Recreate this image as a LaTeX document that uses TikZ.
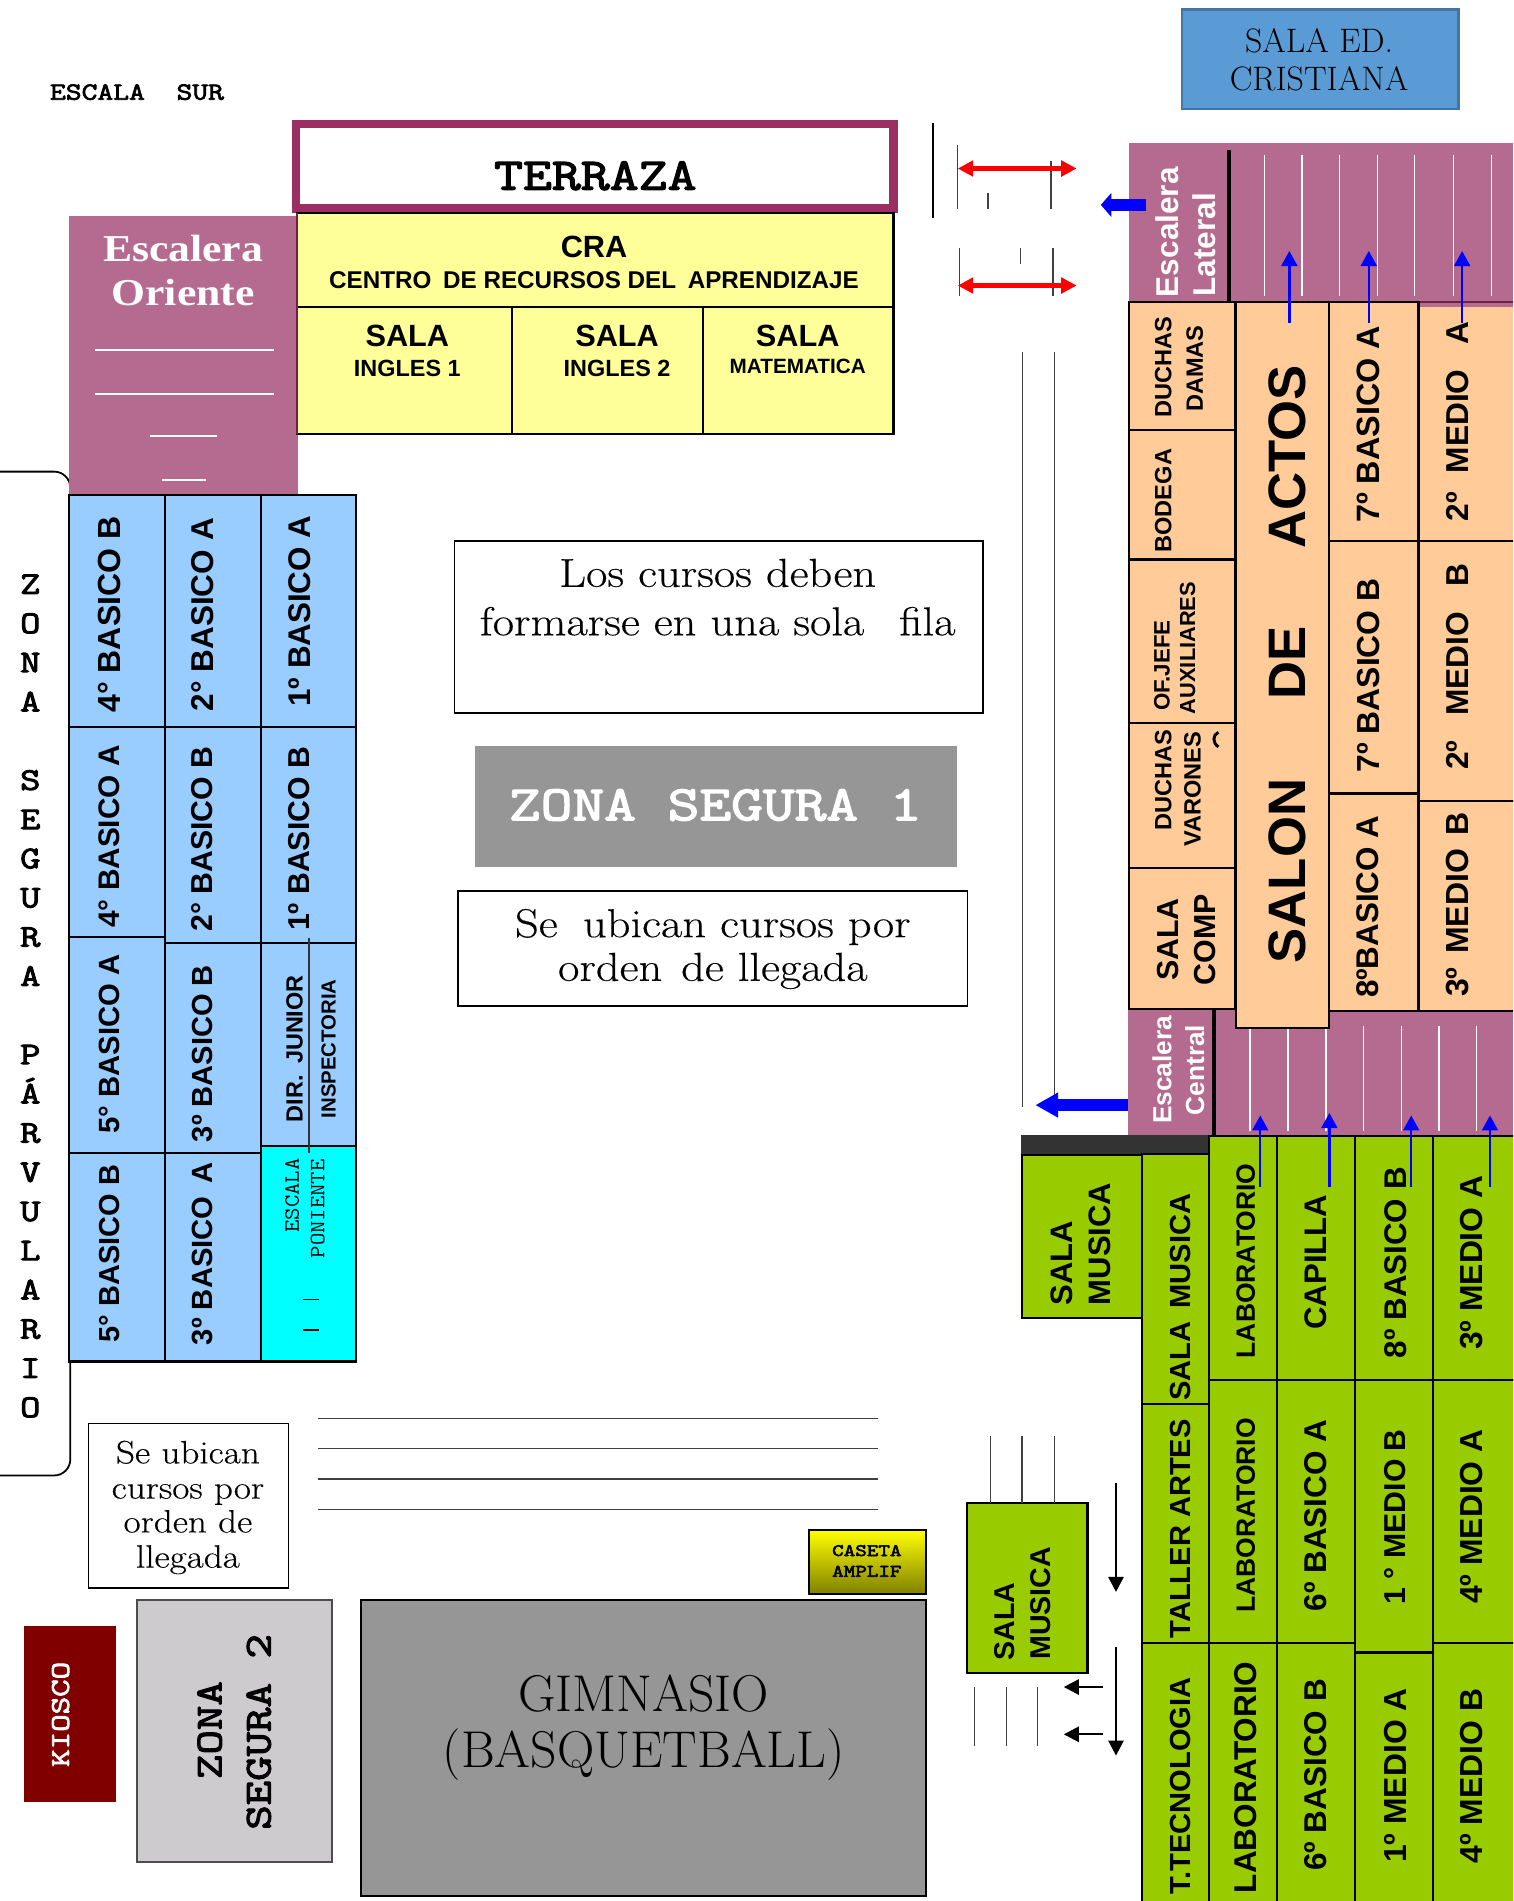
\documentclass[tikz,border=0pt]{standalone}
\usepackage{fontspec}
\setsansfont{Liberation Sans}
\newfontfamily\serifwide[FakeStretch=1.15]{Liberation Serif}
\newfontfamily\notewide[FakeStretch=1.15,FakeBold=0.3]{Latin Modern Roman}
\newfontfamily\monoheavy[FakeStretch=1.25,FakeBold=3]{Latin Modern Mono}
\newfontfamily\monothin[FakeStretch=1.1]{Latin Modern Mono}
\usetikzlibrary{arrows.meta}
\definecolor{stairpink}{HTML}{B56B90}
\definecolor{terrazaframe}{HTML}{9B2F63}
\definecolor{cellyellow}{HTML}{FFFF99}
\definecolor{cellblue}{HTML}{99CCFF}
\definecolor{cellorange}{HTML}{FFCC99}
\definecolor{cellgreen}{HTML}{99CC00}
\definecolor{cellcyan}{HTML}{00FFFF}
\definecolor{zonegray}{HTML}{969696}
\definecolor{zonelight}{HTML}{CDCBCD}
\definecolor{kioscored}{HTML}{800000}
\definecolor{edblue}{HTML}{5B9BD5}
\definecolor{casetatop}{HTML}{FFFF00}
\definecolor{casetabot}{HTML}{7F7F00}
\tikzset{
  room/.style={draw=black,line width=1.3},
  vlab/.style={rotate=90,inner sep=0pt,font=\sffamily\bfseries\fontsize{#1}{#1}\selectfont},
  vlab/.default=18.7,
  hlab/.style={inner sep=0pt,font=\sffamily\bfseries\fontsize{#1}{#1}\selectfont},
  note/.style={inner sep=0pt,anchor=base,font=\notewide\fontsize{#1}{#1}\selectfont},
  plain/.style={inner sep=0pt,anchor=base,font=\fontsize{#1}{#1}\selectfont},
  monob/.style={inner sep=0pt,font=\monoheavy\fontsize{#1}{#1}\selectfont},
  stripe/.style={white,line width=0.8},
  thinline/.style={black!75,line width=0.8},
  bluearrow/.style={blue,line width=1.5,-{Triangle[length=9.3pt,width=9.8pt]}},
  redarrow/.style={red,line width=2.7,{Triangle[length=9.5pt,width=9.5pt]}-{Triangle[length=9.5pt,width=9.5pt]}},
  fatarrow/.style={blue,line width=7.5,-{Triangle[length=#1,width=14.5pt]}},
  blackarrow/.style={black,line width=1.2,-{Triangle[length=9.3pt,width=9.5pt]}},
}
\begin{document}
\begin{tikzpicture}[x=0.75pt,y=0.75pt,yscale=-1,xscale=1]
\clip (0,0) rectangle (1248,1568);

%Shape: Zona parvulario
\draw [line width=1.1, rounded corners=10]  (-30,389) -- (58,389) -- (58,1217) -- (-30,1217) ;

%Shape: Escaleras
\fill [stairpink]  (57,178) rectangle (246,408) ;
\fill [stairpink]  (931,118) rectangle (1248,253) ;
\fill [stairpink]  (930,825) rectangle (1248,937) ;
\draw [black,line width=2.4]  (1013.5,124) -- (1013.5,249) ;
\draw [black,line width=2.4]  (1001.5,832) -- (1001.5,937) ;
\draw [terrazaframe!70!black,line width=1]  (1170,249) -- (1248,249) ;

%Stripes
\foreach \px in {1043,1074,1105,1136,1167,1199,1230} \draw [stripe] (\px,128) -- (\px,244) ;
\foreach \px in {1031,1062.4,1093.8,1124.6,1155.7,1187,1218} \draw [stripe] (\px,846) -- (\px,933) ;

%White rules of the east stair
\draw [stripe,line width=1.2]  (78,289) -- (226,289) ;
\draw [stripe,line width=1.2]  (78,325) -- (226,325) ;
\draw [stripe,line width=1.2]  (124,360) -- (179,360) ;
\draw [stripe,line width=1.2]  (134,396) -- (170,396) ;

%Shape: Sala Ed
\draw [edblue!75!black,fill=edblue,line width=1.5]  (975,8) rectangle (1203,90) ;
%Shape: Terraza
\draw [terrazaframe,line width=5]  (244,102) rectangle (737,172) ;

%Yellow rooms
\draw [room,fill=cellyellow]  (245,176) rectangle (737,253) ;
\draw [room,fill=cellyellow]  (245,253) rectangle (422,358) ;
\draw [room,fill=cellyellow]  (422,253) rectangle (580,358) ;
\draw [room,fill=cellyellow]  (580,253) rectangle (737,358) ;
\draw [terrazaframe!70!black,line width=1.3]  (245,176) -- (245,358) ;

%Blue rooms
\draw [room,fill=cellblue]  (57,408) rectangle (136,600) ;
\draw [room,fill=cellblue]  (57,600) rectangle (136,773) ;
\draw [room,fill=cellblue]  (57,773) rectangle (136,951) ;
\draw [room,fill=cellblue]  (57,951) rectangle (136,1123) ;
\draw [room,fill=cellblue]  (136,408) rectangle (215,600) ;
\draw [room,fill=cellblue]  (136,600) rectangle (215,778) ;
\draw [room,fill=cellblue]  (136,778) rectangle (215,951) ;
\draw [room,fill=cellblue]  (136,951) rectangle (215,1123) ;
\draw [room,fill=cellblue]  (215,408) rectangle (294,600) ;
\draw [room,fill=cellblue]  (215,600) rectangle (294,778) ;
\draw [room,fill=cellblue]  (215,778) rectangle (294,945) ;
\draw [room,fill=cellcyan]  (215,945) rectangle (294,1123) ;
\draw [black!80,line width=1.3]  (255,774) -- (255,951) ;
\draw [line width=0.7]  (250,1071.5) -- (263,1071.5) ;
\draw [line width=0.7]  (250,1097) -- (263,1097) ;

%Shape: notes
\draw [room,line width=1]  (375,446) rectangle (811,588) ;
\fill [zonegray]  (392,615) rectangle (789,715) ;
\draw [room,line width=1]  (378,735) rectangle (798,830) ;
\draw [room,line width=1]  (73,1174) rectangle (238,1310) ;

%Lines of the patio
\draw [thinline]  (262,1170) -- (724,1170) ;
\draw [thinline]  (262,1195) -- (724,1195) ;
\draw [thinline]  (262,1220) -- (724,1220) ;
\draw [thinline]  (262,1245) -- (724,1245) ;

%Shape: lower block
\draw [room,top color=casetatop,bottom color=casetabot]  (667,1262) rectangle (764,1315) ;
\draw [room,fill=zonegray]  (298,1320) rectangle (764,1564) ;
\draw [black!70,line width=1.2,fill=zonelight]  (113,1320) rectangle (274,1536) ;
\fill [kioscored]  (20,1341) rectangle (96,1486) ;

%Orange rooms
\draw [room,fill=cellorange]  (931,249) rectangle (1019,354.5) ;
\draw [room,fill=cellorange]  (931,354.5) rectangle (1019,461.5) ;
\draw [room,fill=cellorange]  (931,461.5) rectangle (1019,596.5) ;
\draw [room,fill=cellorange]  (931,596.5) rectangle (1019,716) ;
\draw [room,fill=cellorange]  (931,716) rectangle (1019,832) ;
\draw [room,fill=cellorange]  (1096,249) rectangle (1170,446) ;
\draw [room,fill=cellorange]  (1096,446) rectangle (1170,654.5) ;
\draw [room,fill=cellorange]  (1096,654.5) rectangle (1170,834) ;
\fill [cellorange]  (1170,253) rectangle (1248,446) ;
\draw [room]  (1170,249) -- (1170,446) -- (1248,446) ;
\draw [room,fill=cellorange]  (1170,446) rectangle (1260,661) ;
\draw [room,fill=cellorange]  (1170,661) rectangle (1260,834) ;
\draw [room,fill=cellorange]  (1019.5,249) rectangle (1096,848) ;

%Green rooms
\fill [black!80]  (842.5,936.5) rectangle (998,952.5) ;
\draw [room,fill=cellgreen]  (843,953) rectangle (942,1087) ;
\draw [room,fill=cellgreen]  (942,952) rectangle (997.5,1158) ;
\draw [room,fill=cellgreen]  (942,1158) rectangle (997.5,1355) ;
\draw [room,fill=cellgreen]  (942,1355) rectangle (997.5,1590) ;
\draw [room,fill=cellgreen]  (997.5,937) rectangle (1053,1138) ;
\draw [room,fill=cellgreen]  (997.5,1138) rectangle (1053,1355) ;
\draw [room,fill=cellgreen]  (997.5,1355) rectangle (1053,1590) ;
\draw [room,fill=cellgreen]  (1053,937) rectangle (1118,1138) ;
\draw [room,fill=cellgreen]  (1053,1138) rectangle (1118,1355) ;
\draw [room,fill=cellgreen]  (1053,1355) rectangle (1118,1590) ;
\draw [room,fill=cellgreen]  (1118,937) rectangle (1182,1138) ;
\draw [room,fill=cellgreen]  (1118,1138) rectangle (1182,1363) ;
\draw [room,fill=cellgreen]  (1118,1363) rectangle (1182,1590) ;
\draw [room,fill=cellgreen]  (1182,937) rectangle (1260,1138) ;
\draw [room,fill=cellgreen]  (1182,1138) rectangle (1260,1355) ;
\draw [room,fill=cellgreen]  (1182,1355) rectangle (1260,1590) ;
\draw [room,fill=cellgreen]  (797.5,1240) rectangle (897,1380) ;

%Thin lines by the arrows
\draw [line width=1.1]  (769.5,101.5) -- (769.5,180) ;
\draw [thinline]  (790,120) -- (790,172) ;
\draw [thinline]  (867,133) -- (867,172) ;
\draw [thinline]  (815,159) -- (815,172) ;
\draw [thinline]  (791.5,204.5) -- (791.5,244) ;
\draw [thinline]  (842,204.5) -- (842,217.5) ;
\draw [thinline]  (868.5,204.5) -- (868.5,244) ;
\draw [thinline]  (843.5,290.5) -- (843.5,913) ;
\draw [thinline]  (869.5,290.5) -- (869.5,903) ;
\draw [thinline]  (817,1184.5) -- (817,1240) ;
\draw [thinline]  (843,1184.5) -- (843,1240) ;
\draw [thinline]  (869.5,1184.5) -- (869.5,1240) ;
\draw [thinline]  (804,1391.5) -- (804,1440) ;
\draw [thinline]  (830,1391.5) -- (830,1440) ;
\draw [thinline]  (856,1391.5) -- (856,1440) ;

%Straight Lines: arrows
\draw [redarrow]  (790,139) -- (888,139) ;
\draw [redarrow]  (790,235.5) -- (888,235.5) ;
\draw [fatarrow=6.5pt]  (945,169) -- (908,169) ;
\draw [fatarrow=14pt]  (930,911.5) -- (854,911.5) ;
\draw [bluearrow]  (1063.5,266) -- (1063.5,207) ;
\draw [bluearrow]  (1129,266) -- (1129,207) ;
\draw [bluearrow]  (1206,266) -- (1206,207) ;
\draw [bluearrow]  (1039.5,979) -- (1039.5,920) ;
\draw [bluearrow]  (1096.5,979) -- (1096.5,918) ;
\draw [bluearrow]  (1164,979) -- (1164,920) ;
\draw [bluearrow]  (1229,979) -- (1229,920) ;
\draw [blackarrow]  (920.5,1223.5) -- (920.5,1313) ;
\draw [blackarrow]  (920.5,1358.5) -- (920.5,1448) ;
\draw [blackarrow]  (910,1391.5) -- (877.5,1391.5) ;
\draw [blackarrow]  (910,1430.5) -- (877.5,1430.5) ;

%Small arc in the varones room
\draw [line width=1.8]  (1005,604) .. controls (1000,606) and (1000,613) .. (1005,616) ;

% Text Node
\draw (113,76) node (escalaSur) [monob=15.2] {ESCALA\ \ SUR};
% Text Node
\draw (1088,43) node (salaEd) [plain=21] {SALA ED.};
\draw (1088,75) node (salaCristiana) [plain=21] {CRISTIANA};
% Text Node
\draw (491,145) node (terraza) [monob=27.8] {TERRAZA};
% Text Node
\draw (151,205) node (escOriente) [inner sep=0pt,text=white,font=\serifwide\bfseries\fontsize{23.5}{23.5}\selectfont] {Escalera};
\draw (151,241) node (escOriente2) [inner sep=0pt,text=white,font=\serifwide\bfseries\fontsize{23.5}{23.5}\selectfont] {Oriente};
% Text Node
\draw (490,204) node (cra) [hlab=19] {CRA};
\draw (490,231) node (craLong) [hlab=15] {CENTRO\hspace{3pt} DE RECURSOS DEL\hspace{3pt} APRENDIZAJE};
\draw (336,277) node (sala1) [hlab=19] {SALA};
\draw (336,304) node (ingles1) [hlab=14.5] {INGLES 1};
\draw (509,277) node (sala2) [hlab=19] {SALA};
\draw (509,304) node (ingles2) [hlab=14.5] {INGLES 2};
\draw (658,277) node (sala3) [hlab=19] {SALA};
\draw (658,302) node (matematica) [hlab=12.8] {MATEMATICA};

% Text Node
\draw (25,821.5) node (parvulario) [inner sep=0pt,align=center,font=\monoheavy\fontsize{19.5}{24.25}\selectfont] {Z\\O\\N\\A\\\mbox{}\\S\\E\\G\\U\\R\\A\\\mbox{}\\P\\Á\\R\\V\\U\\L\\A\\R\\I\\O};

% Text Node
\draw (90,507) node (cuatroB) [vlab=19.8] {4° BASICO B};
\draw (90,690) node (cuatroA) [vlab=18.4] {4° BASICO A};
\draw (90,861) node (cincoA) [vlab=18.1] {5° BASICO A};
\draw (90,1034) node (cincoB) [vlab=17.9] {5° BASICO B};
\draw (167,507) node (dosA) [vlab=19.5] {2° BASICO A};
\draw (167,692) node (dosB) [vlab] {2° BASICO B};
\draw (167,869) node (tresB) [vlab=18] {3º BASICO B};
\draw (167,1034) node (tresA) [vlab=18.1] {3º BASICO\hspace{3pt} A};
\draw (247,504) node (unoA) [vlab=19.4] {1º BASICO A};
\draw (247,692) node (unoB) [vlab] {1º BASICO B};
\draw (243,865) node (dirJunior) [vlab=14.5] {DIR.\hspace{3pt} JUNIOR};
\draw (271,865) node (inspectoria) [vlab=12.6] {INSPECTORIA};
\draw (241,986) node (escalaPon) [rotate=90,inner sep=0pt,font=\monothin\fontsize{13.5}{13.5}\selectfont] {ESCALA};
\draw (262,997) node (poniente) [rotate=90,inner sep=0pt,font=\monothin\fontsize{13.5}{13.5}\selectfont] {PONIENTE};

% Text Node
\draw (592,484) node (cursosDeben) [note=25] {Los cursos deben};
\draw (592,524) node (cursosFila) [note=25] {formarse en una sola\hspace{13pt} fila};
\draw (590,664) node (zonaSegura1) [monob=30.5,text=white] {ZONA SEGURA 1};
\draw (588,773) node (ubican1) [note=25] {Se\hspace{7pt} ubican cursos por};
\draw (588,809) node (ubican2) [note=25] {orden\hspace{3pt} de llegada};
\draw (155,1207) node (seUbican) [note=20] {Se ubican};
\draw (155,1236) node (seCursos) [note=20] {cursos por};
\draw (155,1264) node (seOrden) [note=20] {orden de};
\draw (155,1293) node (seLlegada) [note=20] {llegada};
\draw (715,1279) node (caseta) [monob=10.9] {CASETA};
\draw (715,1296) node (amplif) [monob=10.9] {AMPLIF};
\draw (531,1412) node (gimnasio) [plain=32] {GIMNASIO};
\draw (531,1458) node (basquet) [plain=32] {(BASQUETBALL)};
\draw (173,1427) node (zona2) [monob=23.5,rotate=90] {ZONA};
\draw (213.5,1428.5) node (segura2) [monob=23.5,rotate=90] {SEGURA 2};
\draw (50,1414) node (kiosco) [monob=16.8,rotate=90,text=white] {KIOSCO};

% Text Node
\draw (963,191.5) node (escLateral) [vlab=19.5,text=white] {Escalera};
\draw (993,202) node (lateral) [vlab=19.5,text=white] {Lateral};
\draw (958.5,882.5) node (escCentral) [vlab=16.2,text=white] {Escalera};
\draw (985.5,882.5) node (central) [vlab=16.2,text=white] {Central};
\draw (959.5,303) node (duchasD) [vlab=14.6] {DUCHAS};
\draw (985.5,304) node (damas) [vlab=14.6] {DAMAS};
\draw (959.5,413) node (bodega) [vlab=14.6] {BODEGA};
\draw (958.5,549) node (ofJefe) [vlab=13.8] {OF.JEFE};
\draw (979.5,534.5) node (auxiliares) [vlab=13.5] {AUXILIARES};
\draw (959.5,643.5) node (duchasV) [vlab=14.6] {DUCHAS};
\draw (983.5,651) node (varones) [vlab=14.6] {VARONES};
\draw (963.5,775) node (salaComp) [vlab=18.8] {SALA};
\draw (994,775) node (comp) [vlab=18.8] {COMP};
\draw (1062,548) node (salonActos) [vlab=32.6] {SALON\hspace{49pt}DE\hspace{48pt}ACTOS};
\draw (1128.5,350) node (sieteA) [vlab=20] {7º BASICO A};
\draw (1128.5,557) node (sieteB) [vlab=19.7] {7º BASICO B};
\draw (1128.5,748) node (ochoA) [vlab=19.4] {8ºBASICO A};
\draw (1202.5,347.5) node (dosMA) [vlab=19.6] {2º\hspace{6pt} MEDIO\hspace{10pt} A};
\draw (1202.5,550) node (dosMB) [vlab=19.6] {2º\hspace{10pt} MEDIO\hspace{10pt} B};
\draw (1202.5,746) node (tresMB) [vlab=19.8] {3º\hspace{3pt} MEDIO\hspace{3pt} B};

% Text Node
\draw (875.5,1042) node (musica1a) [vlab=19.2] {SALA};
\draw (907,1026) node (musica1b) [vlab=19.2] {MUSICA};
\draw (829,1337.5) node (musica2a) [vlab=17.7] {SALA};
\draw (858,1322.5) node (musica2b) [vlab=17.7] {MUSICA};
\draw (973.5,1070) node (salaMusica) [vlab=18] {SALA\hspace{3pt} MUSICA};
\draw (973.5,1261) node (taller) [vlab=18] {TALLER ARTES};
\draw (973.5,1473) node (tecnologia) [vlab=18] {T.TECNOLOGIA};
\draw (1027.5,1040) node (lab1) [vlab=16.4] {LABORATORIO};
\draw (1027.5,1250) node (lab2) [vlab=16.4] {LABORATORIO};
\draw (1027.5,1466) node (lab3) [vlab=19.5] {LABORATORIO};
\draw (1085,1041) node (capilla) [vlab=19.3] {CAPILLA};
\draw (1085,1250) node (seisA) [vlab=19.5] {6º BASICO A};
\draw (1085,1464) node (seisB) [vlab=19.5] {6º BASICO B};
\draw (1151,1041.5) node (ochoB) [vlab=19.4] {8º BASICO B};
\draw (1151,1251) node (unoMB) [vlab] {1 ° MEDIO B};
\draw (1151,1464.5) node (unoMA) [vlab=19.7] {1º MEDIO A};
\draw (1214,1041.5) node (tresMA) [vlab=19.7] {3º MEDIO A};
\draw (1214,1251) node (cuatroMA) [vlab=19.7] {4º MEDIO A};
\draw (1214,1465) node (cuatroMB) [vlab=19.7] {4º MEDIO B};

\end{tikzpicture}
\end{document}
